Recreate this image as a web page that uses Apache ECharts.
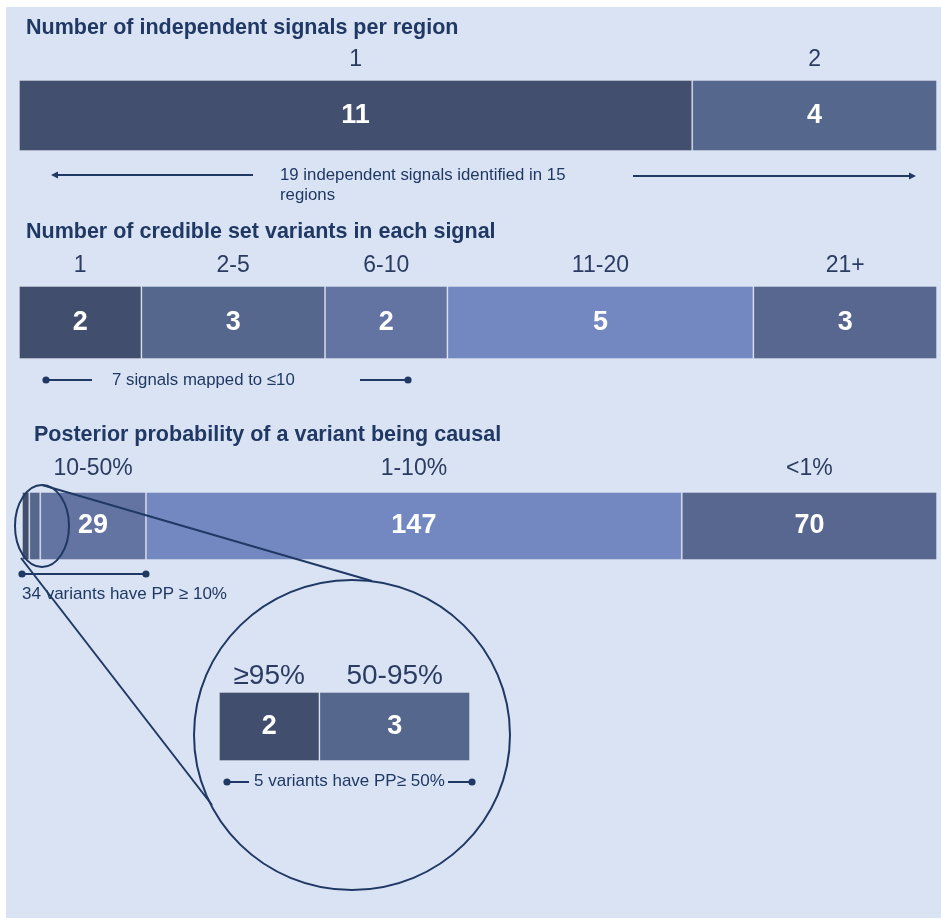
<!DOCTYPE html>
<html>
<head>
<meta charset="utf-8">
<script src="https://cdn.jsdelivr.net/npm/echarts@6/dist/echarts.min.js"></script>
<style>
  html, body { margin: 0; padding: 0; background: #ffffff; }
  #chart { width: 941px; height: 919px; }
</style>
</head>
<body>
<div id="chart"></div>
<script>
// Number of independent signals per region
const regionCats = ['1', '2'];
const regionCounts = [11, 4];

// Number of credible set variants in each signal
const setCats = ['1', '2-5', '6-10', '11-20', '21+'];
const setCounts = [2, 3, 2, 5, 3];

// Posterior probability of a variant being causal
const ppCats = ['≥95%', '50-95%', '10-50%', '1-10%', '<1%'];
const ppCounts = [2, 3, 29, 147, 70];
const ppLabelled = [false, false, true, true, true];

// Magnified view of the two highest bins
const topCats = ppCats.slice(0, 2);
const topCounts = ppCounts.slice(0, 2);

const regionColors = ['#434f6f', '#56678e'];
const setColors = ['#424e6d', '#56678e', '#6474a2', '#7388c0', '#57678f'];
const ppColors = ['#424e6d', '#56678e', '#6474a2', '#7388c0', '#57678f'];

const NAVY = '#1f3864';
const LABEL = '#2b3b61';
const FONT = '"Liberation Sans", Arial, sans-serif';

const sum = arr => arr.reduce((a, b) => a + b, 0);

// One stacked horizontal bar per grid; a transparent twin stack carries the bin names above it
function barSeries(gi, cats, counts, colors, o) {
  const out = [];
  cats.forEach((c, i) => {
    out.push({
      type: 'bar', xAxisIndex: gi, yAxisIndex: gi, stack: 'v' + gi,
      barWidth: '100%', barGap: '-100%', z: 3,
      data: [counts[i]],
      itemStyle: { color: colors[i], borderColor: 'rgba(255,255,255,0.28)', borderWidth: 1 },
      label: {
        show: o.showValue ? o.showValue[i] : true, position: 'inside',
        color: '#ffffff', fontFamily: FONT, fontWeight: 'bold', fontSize: o.valueSize,
        formatter: p => String(p.value)
      },
      silent: true
    });
    out.push({
      type: 'bar', xAxisIndex: gi, yAxisIndex: gi, stack: 'n' + gi,
      barWidth: '100%', barGap: '-100%', z: 2,
      data: [counts[i]],
      itemStyle: { color: 'rgba(0,0,0,0)' },
      label: {
        show: o.showName ? o.showName[i] : true, position: 'top', distance: o.nameDist,
        color: LABEL, fontFamily: FONT, fontSize: o.nameSize,
        formatter: () => c
      },
      silent: true
    });
  });
  return out;
}

const grids = [
  { left: 19, right: 4, top: 80, height: 71 },
  { left: 19, right: 4, top: 286, height: 73 },
  { left: 22, right: 4, top: 492, height: 68 },
  { left: 219, width: 251, top: 692, height: 69 }
];
const totals = [sum(regionCounts), sum(setCounts), sum(ppCounts), sum(topCounts)];

const chart = echarts.init(document.getElementById('chart'), null, { renderer: 'canvas' });

chart.setOption({
  backgroundColor: '#ffffff',
  animation: false,
  grid: grids,
  xAxis: totals.map((t, i) => ({ gridIndex: i, type: 'value', min: 0, max: t, show: false })),
  yAxis: totals.map((t, i) => ({ gridIndex: i, type: 'category', data: ['n'], show: false })),
  series: [
    ...barSeries(0, regionCats, regionCounts, regionColors, { valueSize: 27, nameSize: 23, nameDist: 9 }),
    ...barSeries(1, setCats, setCounts, setColors, { valueSize: 27, nameSize: 23, nameDist: 9 }),
    ...barSeries(2, ppCats, ppCounts, ppColors, {
      valueSize: 27, nameSize: 23, nameDist: 12, showValue: ppLabelled, showName: ppLabelled
    }),
    ...barSeries(3, topCats, topCounts, ppColors, { valueSize: 27, nameSize: 28, nameDist: 2 })
  ]
});

// Pixel position of a cumulative count on a bar
const px = (gi, v) => chart.convertToPixel({ gridIndex: gi }, [v, 'n'])[0];

const lineStyle = { stroke: NAVY, lineWidth: 2, fill: null };
const line = (x1, y1, x2, y2, w) => ({
  type: 'line', z: 20, shape: { x1, y1, x2, y2 },
  style: { stroke: NAVY, lineWidth: w || 2 }, silent: true
});
const dot = (cx, cy) => ({
  type: 'circle', z: 20, shape: { cx, cy, r: 3.6 }, style: { fill: NAVY }, silent: true
});
const arrowHead = (x, y, dir) => ({
  type: 'polygon', z: 20,
  shape: { points: [[x, y], [x - 7 * dir, y - 3.5], [x - 7 * dir, y + 3.5]] },
  style: { fill: NAVY }, silent: true
});
const text = (x, y, t, size, bold, color) => ({
  type: 'text', z: 20, x, y,
  style: {
    text: t, fill: color || NAVY, font: (bold ? 'bold ' : '') + size + 'px ' + FONT,
    textVerticalAlign: 'middle', textAlign: 'left'
  },
  silent: true
});

const ppStart = px(2, 0);
const ppTen = px(2, ppCounts[0] + ppCounts[1] + ppCounts[2]);

chart.setOption({
  graphic: [
    // panel background
    { type: 'rect', z: -10, shape: { x: 6, y: 7, width: 935, height: 911 }, style: { fill: '#dae3f3' }, silent: true },

    // titles
    text(26, 28, 'Number of independent signals per region', 21.5, true),
    text(26, 232, 'Number of credible set variants in each signal', 21.5, true),
    text(34, 435, 'Posterior probability of a variant being causal', 21.5, true),

    // signals per region: span arrows
    line(57, 175, 253, 175), arrowHead(51, 175, -1),
    line(633, 176, 910, 176), arrowHead(916, 176, 1),
    text(280, 175, '19 independent signals identified in 15', 16.8, false),
    text(280, 195, 'regions', 16.8, false),

    // credible set bracket
    dot(46, 380), line(46, 380, 92, 380),
    text(112, 380, '7 signals mapped to \u226410', 16.8, false),
    line(360, 380, 408, 380), dot(408, 380),

    // posterior probability bracket
    dot(ppStart, 574), line(ppStart, 574, ppTen, 574), dot(ppTen, 574),
    text(22, 594, '34 variants have PP \u2265 10%', 17, false),

    // magnifier: ellipse around the top bins and the enlarged circle
    { type: 'ellipse', z: 20, shape: { cx: 42, cy: 526, rx: 27, ry: 41 }, style: lineStyle, silent: true },
    line(42, 485, 372, 581), line(21, 558, 212, 805),
    { type: 'ellipse', z: 20, shape: { cx: 352, cy: 735, rx: 158, ry: 155 }, style: lineStyle, silent: true },

    // magnified bracket
    dot(227, 782), line(227, 782, 249, 782),
    text(254, 781, '5 variants have PP\u2265 50%', 17, false),
    line(448, 782, 472, 782), dot(472, 782)
  ]
});
</script>
</body>
</html>
